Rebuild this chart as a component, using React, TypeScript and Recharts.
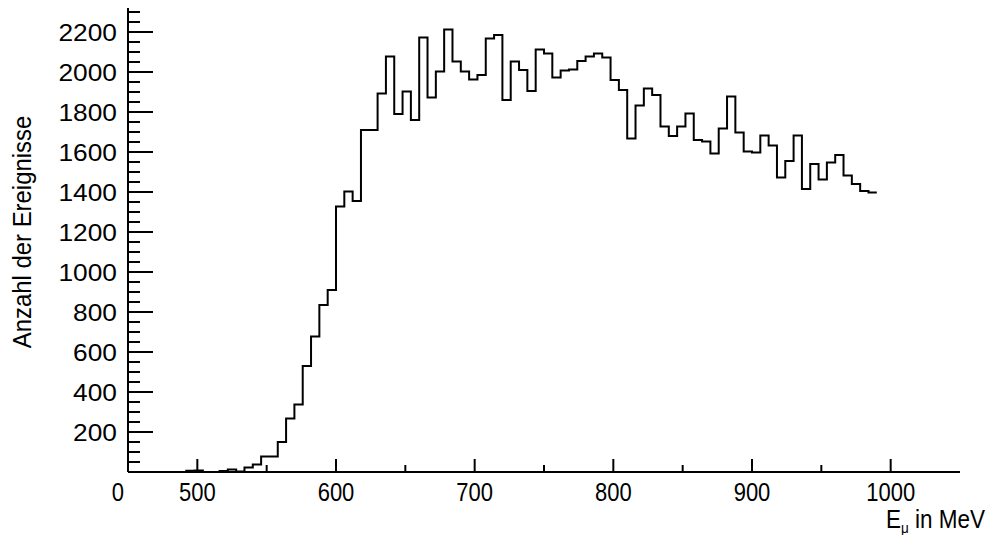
import React from 'react';
import { ComposedChart, Line, XAxis, YAxis } from 'recharts';

// bin low edges in MeV (6 MeV bins, 450..990)
const binEdges = [
  450, 456, 462, 468, 474, 480, 486, 492, 498, 504,
  510, 516, 522, 528, 534, 540, 546, 552, 558, 564,
  570, 576, 582, 588, 594, 600, 606, 612, 618, 624,
  630, 636, 642, 648, 654, 660, 666, 672, 678, 684,
  690, 696, 702, 708, 714, 720, 726, 732, 738, 744,
  750, 756, 762, 768, 774, 780, 786, 792, 798, 804,
  810, 816, 822, 828, 834, 840, 846, 852, 858, 864,
  870, 876, 882, 888, 894, 900, 906, 912, 918, 924,
  930, 936, 942, 948, 954, 960, 966, 972, 978, 984,
];

const counts = [
  0, 0, 0, 0, 0, 0, 0, 6, 8, 0,
  0, 5, 12, 2, 22, 37, 78, 78, 150, 267,
  337, 530, 677, 835, 910, 1327, 1402, 1355, 1710, 1710,
  1893, 2077, 1790, 1902, 1760, 2172, 1873, 2002, 2213, 2052,
  2002, 1963, 1985, 2168, 2185, 1860, 2052, 2010, 1905, 2113,
  2092, 1973, 2007, 2013, 2055, 2077, 2092, 2073, 1960, 1910,
  1668, 1832, 1918, 1885, 1727, 1680, 1727, 1793, 1660, 1652,
  1593, 1718, 1877, 1698, 1602, 1598, 1682, 1632, 1473, 1555,
  1682, 1415, 1540, 1463, 1547, 1585, 1482, 1440, 1405, 1398,
];

const lastEdge = 990;

const xMajor = [500, 600, 700, 800, 900, 1000];
const xMinor = [550, 650, 750, 850, 950];
const yMajor = [200, 400, 600, 800, 1000, 1200, 1400, 1600, 1800, 2000, 2200];

const FONT = '"Liberation Sans", Arial, sans-serif';

// step histogram: each point opens a bin, the extra one closes the last bin
const rows = binEdges.map((e, i) => ({ e, n: counts[i] }));
rows.push({ e: lastEdge, n: counts[counts.length - 1] });

const yTicks: number[] = [];
for (let v = 0; v <= 2300; v += 50) yTicks.push(v);

const XTick = (props: any) => {
  const { x, y, payload } = props;
  const v = payload.value;
  const major = xMajor.includes(v);
  return (
    <g>
      <line x1={x} x2={x} y1={y} y2={y - (major ? 13 : 7)} stroke="#000" strokeWidth={2} />
      {major && (
        <text
          transform={`translate(${x},${y + 29}) scale(0.88,1)`}
          textAnchor="middle"
          fontFamily={FONT}
          fontSize={25}
          fill="#000"
        >
          {v}
        </text>
      )}
    </g>
  );
};

const YTick = (props: any) => {
  const { x, y, payload } = props;
  const v = payload.value;
  if (v === 0) {
    return (
      <text
        transform={`translate(${x - 4},${y + 29}) scale(0.88,1)`}
        textAnchor="end"
        fontFamily={FONT}
        fontSize={25}
        fill="#000"
      >
        0
      </text>
    );
  }
  const major = yMajor.includes(v);
  return (
    <g>
      <line x1={x} x2={x + (major ? 25 : 12)} y1={y} y2={y} stroke="#000" strokeWidth={2} />
      {major && (
        <text
          transform={`translate(${x - 11},${y + 8.5}) scale(1.12,1)`}
          textAnchor="end"
          fontFamily={FONT}
          fontSize={23.5}
          fill="#000"
        >
          {v}
        </text>
      )}
    </g>
  );
};

const App = () => {
  return (
    <div style={{ position: 'absolute', left: 0, top: 0, background: '#fff' }}>
      <ComposedChart width={989} height={535} data={rows} margin={{ top: 8, right: 29, bottom: 0, left: 0 }}>
        <XAxis
          dataKey="e"
          type="number"
          domain={[450, 1050]}
          ticks={[...xMajor, ...xMinor]}
          interval={0}
          height={63}
          tickSize={0}
          tickMargin={0}
          tickLine={false}
          tick={<XTick />}
          axisLine={{ stroke: '#000', strokeWidth: 2 }}
          label={{
            content: () => (
              <text
                transform="translate(985,528) scale(0.9,1)"
                textAnchor="end"
                fontFamily={FONT}
                fontSize={25}
                fill="#000"
              >
                E<tspan fontSize={15} dy={5}>μ</tspan>
                <tspan dy={-5}> in MeV</tspan>
              </text>
            ),
          }}
        />
        <YAxis
          type="number"
          domain={[0, 2320]}
          ticks={yTicks}
          interval={0}
          width={128}
          tickSize={0}
          tickMargin={0}
          tickLine={false}
          tick={<YTick />}
          axisLine={{ stroke: '#000', strokeWidth: 2 }}
          label={{
            content: () => (
              <text
                transform="translate(31,232) rotate(-90) scale(0.92,1)"
                textAnchor="middle"
                fontFamily={FONT}
                fontSize={26}
                fill="#000"
              >
                Anzahl der Ereignisse
              </text>
            ),
          }}
        />
        <Line
          type="stepAfter"
          dataKey="n"
          stroke="#000"
          strokeWidth={2}
          dot={false}
          activeDot={false}
          isAnimationActive={false}
        />
      </ComposedChart>
    </div>
  );
};

export default App;
